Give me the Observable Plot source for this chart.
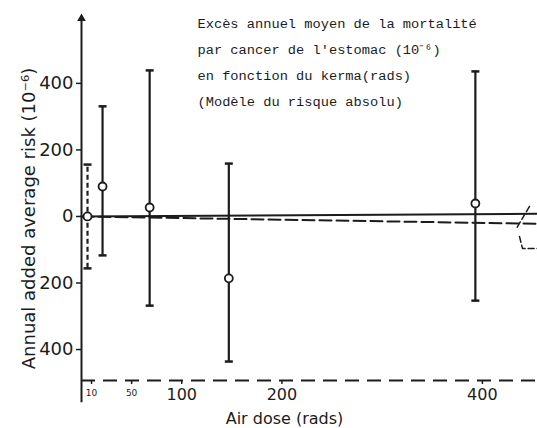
<!DOCTYPE html>
<html><head><meta charset="utf-8">
<script src="https://cdn.jsdelivr.net/npm/d3@7"></script>
<script src="https://cdn.jsdelivr.net/npm/@observablehq/plot@0.6"></script>
<style>body{margin:0;background:#fff}</style>
</head><body><div id="chart"></div>
<script>
// --- data ---
const dose      = [6, 21, 68, 147, 393];        // rads
const risk      = [0, 90, 27, -186, 39];        // 10^-6
const riskLow   = [-156, -117, -268, -436, -253];
const riskHigh  = [156, 331, 439, 159, 436];
const barDashed = [true, false, false, false, false];

const solidFitDose  = [0, 455];
const solidFitRisk  = [0, 8];
const dashedFitDose = [0, 455];
const dashedFitRisk = [0, -22];

const strokeADose = [447, 434];
const strokeARisk = [30, -36];
const strokeBDose = [437, 440, 455];
const strokeBRisk = [-60, -96, -96];

const yTicks = [-400, -200, 0, 200, 400];
const xTicksMajor = [100, 200, 400];
const xTicksMinor = [10, 50];
const xDomain = [0, 455];
const yDomain = [-493, 595];
const yAxisBottom = -560;

const titleLines = [
  "Excès annuel moyen de la mortalité",
  "par cancer de l'estomac (10⁻⁶)",
  "en fonction du kerma(rads)",
  "(Modèle du risque absolu)"
];
const yLabel = "Annual added average risk (10⁻⁶)";
const xLabel = "Air dose (rads)";

// --- build ---
const ink = "#1c1c1c";
const obs = dose.map((d, i) => ({dose: d, risk: risk[i], lo: riskLow[i], hi: riskHigh[i], dashed: barDashed[i]}));
const pts = (xs, ys) => xs.map((x, i) => ({x, y: ys[i]}));
const capSymbol = {draw(ctx, size) { const w = Math.sqrt(size / Math.PI); ctx.moveTo(-w, 0); ctx.lineTo(w, 0); }};
const caps = obs.flatMap(d => [{dose: d.dose, v: d.lo}, {dose: d.dose, v: d.hi}]);

const chart = Plot.plot({
  width: 537, height: 428,
  marginLeft: 81, marginRight: 0, marginTop: 18, marginBottom: 48,
  style: {fontFamily: "DejaVu Sans", color: ink, background: "#fff"},
  x: {domain: xDomain},
  y: {domain: yDomain},
  marks: [
    Plot.ruleY([yDomain[0]], {stroke: ink, strokeWidth: 2, strokeDasharray: "14,8"}),
    Plot.ruleX([xDomain[0]], {y1: yDomain[1], y2: yAxisBottom, stroke: ink, strokeWidth: 2}),
    Plot.dot([xDomain[0]], {x: d => d, y: () => yDomain[1], symbol: "triangle", r: 3.2, fill: ink}),
    Plot.axisY({ticks: yTicks, tickFormat: d => Math.abs(d), fontSize: 18, tickSize: 5, tickPadding: 3, label: null, stroke: ink, strokeWidth: 1.5}),
    Plot.axisX({ticks: xTicksMajor, tickFormat: d => d, fontSize: 16, tickSize: 4, tickPadding: 4, label: null, stroke: ink, strokeWidth: 1.5}),
    Plot.axisX({ticks: xTicksMinor, tickFormat: d => d, fontSize: 9, tickSize: 4, tickPadding: 5, label: null, stroke: ink, strokeWidth: 1.5}),
    Plot.text([yLabel], {frameAnchor: "left", textAnchor: "middle", rotate: -90, dx: -52, dy: 19, fontSize: 18, fill: ink}),
    Plot.text([xLabel], {frameAnchor: "bottom", textAnchor: "middle", dx: -25, dy: 43, fontSize: 16, fill: ink}),
    Plot.line(pts(solidFitDose, solidFitRisk), {x: "x", y: "y", stroke: ink, strokeWidth: 2}),
    Plot.line(pts(dashedFitDose, dashedFitRisk), {x: "x", y: "y", stroke: ink, strokeWidth: 2, strokeDasharray: "12,5"}),
    Plot.line(pts(strokeADose, strokeARisk), {x: "x", y: "y", stroke: ink, strokeWidth: 1.5, strokeDasharray: "6,3"}),
    Plot.line(pts(strokeBDose, strokeBRisk), {x: "x", y: "y", stroke: ink, strokeWidth: 1.5, strokeDasharray: "6,3"}),
    Plot.ruleX(obs.filter(d => !d.dashed), {x: "dose", y1: "lo", y2: "hi", stroke: ink, strokeWidth: 2.2}),
    Plot.ruleX(obs.filter(d => d.dashed), {x: "dose", y1: "lo", y2: "hi", stroke: ink, strokeWidth: 2.2, strokeDasharray: "5,3"}),
    Plot.dot(caps, {x: "dose", y: "v", symbol: capSymbol, r: 4, stroke: ink, strokeWidth: 2.5, fill: "none"}),
    Plot.dot(obs, {x: "dose", y: "risk", r: 4, fill: "#fff", stroke: ink, strokeWidth: 1.8}),
    Plot.text([titleLines.join("\n")], {frameAnchor: "top-left", dx: 116, dy: -9, lineAnchor: "top", lineHeight: 1.9, textAnchor: "start", fontFamily: "Liberation Mono", fontSize: 13.7, fill: ink})
  ]
});
document.getElementById("chart").append(chart);
</script>
</body></html>
